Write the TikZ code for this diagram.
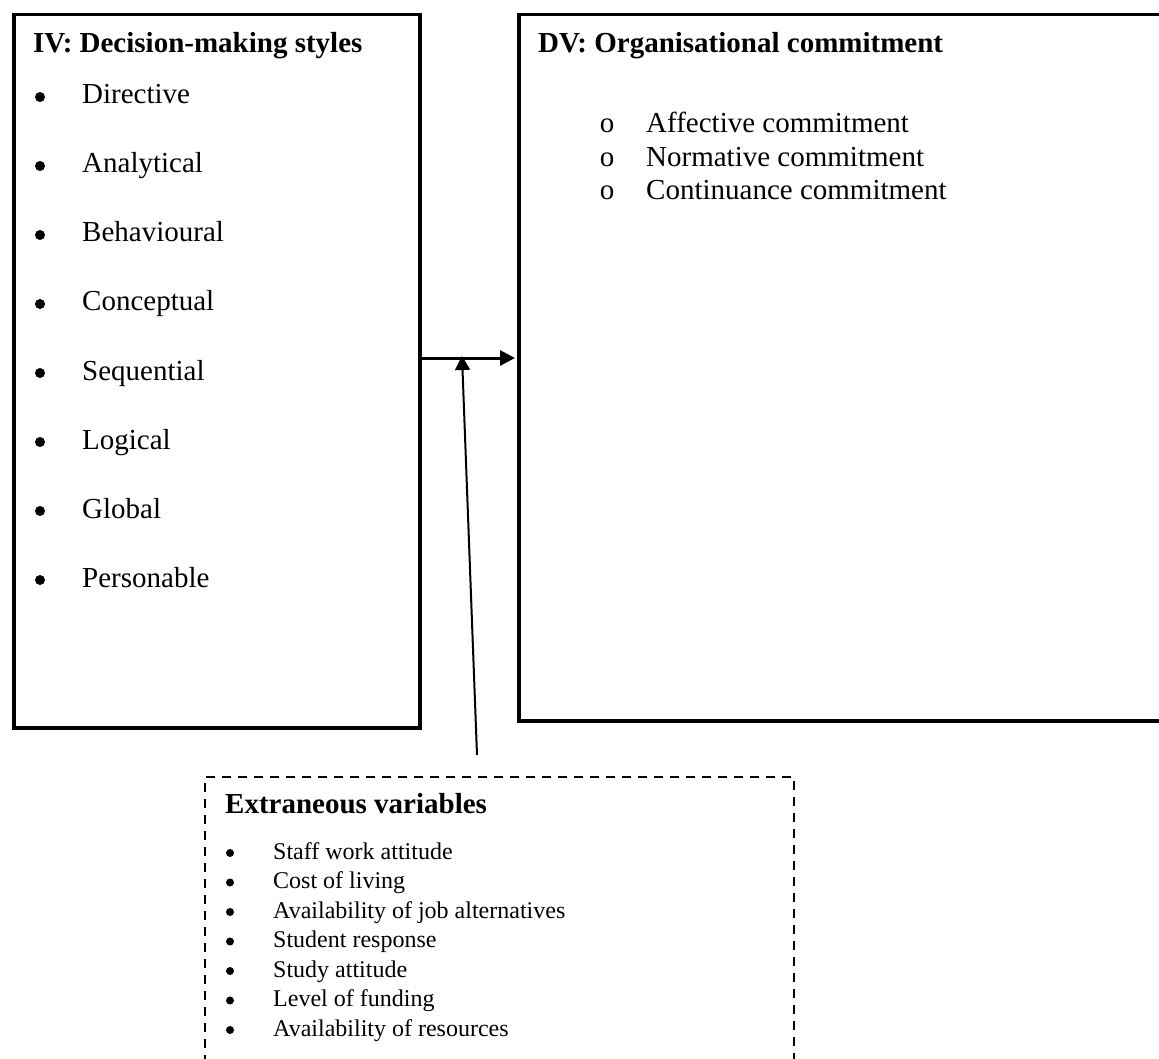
\documentclass[tikz,border=0pt]{standalone}
\usepackage{fontspec}
\setmainfont{Liberation Serif}
\usetikzlibrary{arrows.meta}
\tikzset{
  box/.style={draw, line width=3.5pt, rectangle, inner sep=0pt, anchor=north west},
  dbox/.style={draw, line width=2pt, dash pattern=on 9pt off 7pt, rectangle, inner sep=0pt, anchor=north west},
  head/.style={font=\fontsize{29}{33}\selectfont\bfseries, anchor=base west, inner sep=0pt},
  item/.style={font=\fontsize{29}{33}\selectfont, anchor=base west, inner sep=0pt},
  obul/.style={font=\fontsize{29}{33}\selectfont, anchor=base, inner sep=0pt},
  dot/.style={circle, fill=black, inner sep=0pt, minimum size=10pt},
  sdot/.style={circle, fill=black, inner sep=0pt, minimum size=8pt},
  sitem/.style={font=\fontsize{24}{29}\selectfont, anchor=base west, inner sep=0pt},
  conn/.style={line width=3pt, -{Triangle[length=15pt,width=15pt]}},
  conn2/.style={line width=2pt, -{Triangle[length=14pt,width=15pt]}}
}
\begin{document}
\begin{tikzpicture}[x=1pt,y=-1pt]
\useasboundingbox (0,0) rectangle (1159,1059);
\clip (0,0) rectangle (1159,1059);
\fill[white] (0,0) rectangle (1159,1059);
% boxes
\node[box, minimum width=406pt, minimum height=713pt] (iv) at (12,13) {};
\node[box, minimum width=660pt, minimum height=706pt] (dv) at (517,13) {};
\node[dbox, minimum width=589pt, minimum height=320pt] (ev) at (204,776) {};
% IV box text
\node[head] (ivt) at (33,53) {IV: Decision-making styles};
\foreach \t [count=\i from 0] in {Directive,Analytical,Behavioural,Conceptual,Sequential,Logical,Global,Personable}{
  \node[dot] (ivb\i) at (40,97+69*\i) {};
  \node[item] (ivi\i) at (82,104+69*\i) {\t};
}
% DV box text
\node[head] (dvt) at (538,53) {DV: Organisational commitment};
\foreach \t [count=\i from 0] in {Affective commitment,Normative commitment,Continuance commitment}{
  \node[obul] (dvb\i) at (607,133+33.5*\i) {o};
  \node[item] (dvi\i) at (646,133+33.5*\i) {\t};
}
% Extraneous box text
\node[head] (evt) at (225,813) {Extraneous variables};
\foreach \t [count=\i from 0] in {Staff work attitude,Cost of living,Availability of job alternatives,Student response,Study attitude,Level of funding,Availability of resources}{
  \node[sdot] (evb\i) at (230,853+29.5*\i) {};
  \node[sitem] (evi\i) at (273,859+29.5*\i) {\t};
}
% connectors
\coordinate (j) at (462,356);
\coordinate (vb) at (477,755);
\draw[conn, shorten >=2pt] (iv.east |- 0,358) -- (dv.west |- 0,358);
\draw[conn2] (vb) -- (j);
\end{tikzpicture}
\end{document}
